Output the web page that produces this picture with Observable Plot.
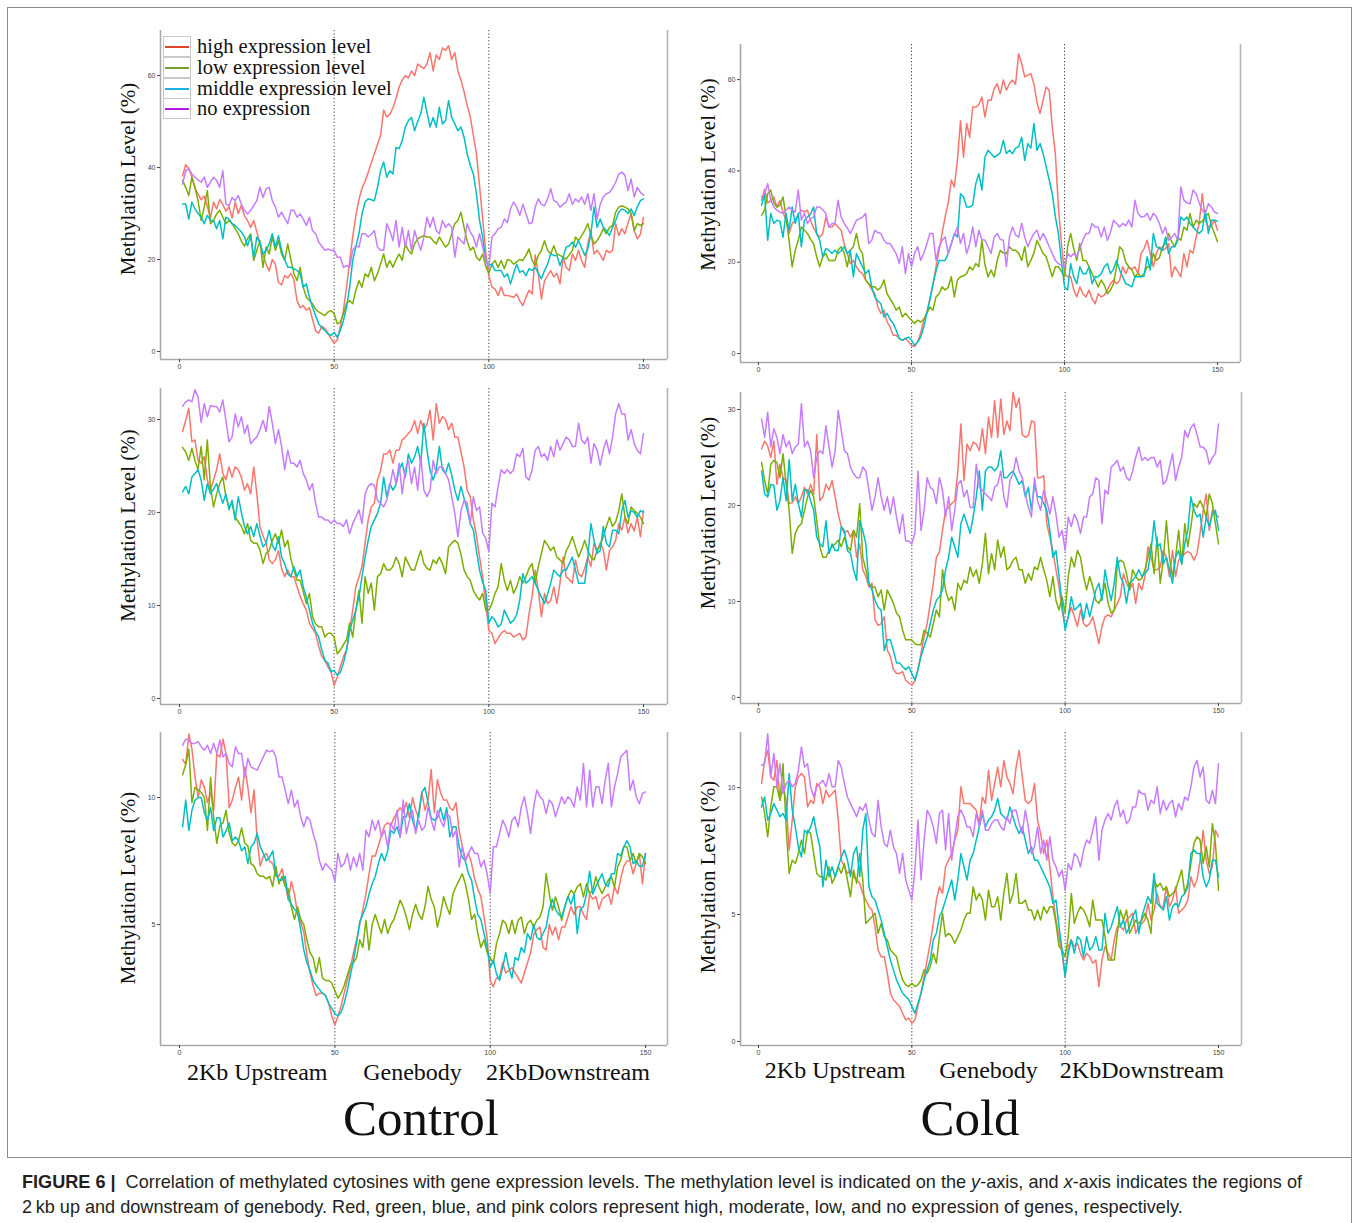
<!DOCTYPE html>
<html><head><meta charset="utf-8">
<script src="https://cdn.jsdelivr.net/npm/d3@7"></script>
<script src="https://cdn.jsdelivr.net/npm/@observablehq/plot@0.6"></script>
<style>
body{margin:0;background:#fff;}
#page{position:relative;width:1356px;height:1223px;overflow:hidden;background:#fff;}
.abs{position:absolute;}
.serif{font-family:"Liberation Serif","DejaVu Serif",serif;color:#111;}
.legrow{position:absolute;left:0;height:21px;display:flex;align-items:center;}
.legkey{width:26px;height:19px;border:1px solid #c9c9c9;background:#fff;position:relative;box-sizing:content-box;}
.legline{position:absolute;left:1px;right:1px;top:9px;height:2px;}
.legtext{margin-left:6px;font-size:20.5px;white-space:nowrap;line-height:21px;}
.cap{font-family:"Liberation Sans",Arial,sans-serif;font-size:18.1px;color:#231f20;white-space:nowrap;}
</style></head>
<body><div id="page"></div>
<script>
// ---------- data ----------
const bins = d3.range(1, 151);            // 150 bins: 2 kb upstream (1-50), gene body (51-100), 2 kb downstream (101-150)
const seriesNames = ["high expression level", "low expression level", "middle expression level", "no expression"];
const lineColors = ["#F8766D", "#7CAE00", "#00BFC4", "#C77CFF"];
const legendColors = ["#e2432c", "#77a02b", "#1ab2e2", "#b516ec"];
const xTicks = [0, 50, 100, 150];
const boundaries = [50, 100];
const regions = [
  {label: "2Kb Upstream", from: 0, to: 50},
  {label: "Genebody", from: 50, to: 100},
  {label: "2KbDownstream", from: 100, to: 150}
];
const yTitle = "Methylation Level (%)";
const groupTitles = ["Control", "Cold"];

// Control (top)
const ctlTopHigh = [38.2,40.6,39.8,38.0,35.5,34.2,33.0,33.8,31.5,29.0,32.5,31.0,33.0,32.0,30.5,31.5,29.0,32.5,30.0,31.8,29.5,28.5,27.0,28.5,26.0,23.5,21.0,19.0,17.5,20.0,19.0,15.0,14.5,16.5,16.0,17.0,15.5,11.0,9.5,10.0,9.0,9.5,7.0,4.5,4.0,5.5,5.0,4.0,2.8,1.8,2.5,5.5,9.0,14.0,19.5,25.0,29.5,33.0,35.5,37.0,39.0,41.0,43.0,45.0,47.0,52.5,51.0,51.5,53.0,55.0,57.5,59.0,60.0,59.5,61.0,60.0,62.5,62.0,61.5,62.5,65.0,61.0,64.5,63.5,66.0,65.5,66.5,63.5,65.0,61.0,59.0,56.5,53.5,51.0,47.0,43.0,36.0,29.0,21.5,16.5,14.0,13.6,12.2,14.0,12.2,12.2,12.0,11.8,12.5,11.0,10.0,11.8,13.3,12.5,21.0,16.9,11.4,15.4,16.5,17.6,16.2,17.0,14.7,20.5,18.3,17.6,21.2,19.8,22.0,19.8,18.3,23.4,26.3,21.2,22.0,21.0,19.8,22.0,21.5,22.0,27.8,25.2,26.7,25.6,28.0,30.0,26.3,24.5,25.5,29.2];
const ctlTopLow = [37.2,35.7,33.9,37.9,35.7,32.8,28.5,31.4,35.0,27.8,28.5,29.9,30.7,29.2,27.8,28.5,27.8,26.7,25.6,24.0,22.9,24.5,25.6,19.8,22.0,24.1,18.3,22.7,21.2,24.9,22.0,24.1,21.2,19.8,23.4,20.0,16.9,15.4,18.3,14.0,11.8,11.1,10.4,9.2,8.6,8.2,7.8,8.6,8.9,8.2,6.0,6.4,8.2,10.4,11.1,10.4,13.3,15.4,14.0,16.9,16.2,18.3,15.4,16.9,19.0,21.2,18.3,19.8,18.3,20.0,21.2,19.8,23.4,22.0,21.2,23.4,24.5,24.9,25.2,24.9,24.9,24.1,23.4,24.9,23.8,22.7,23.4,25.6,27.8,28.5,30.3,27.0,24.0,22.0,22.7,20.5,19.8,21.2,18.5,17.0,19.0,19.8,18.3,19.8,18.0,20.0,19.8,19.0,19.5,20.0,19.8,20.9,22.3,19.8,18.7,20.9,22.0,24.1,22.0,21.2,23.0,21.2,20.9,20.5,20.1,21.0,22.0,24.9,24.1,25.2,26.3,27.8,25.2,23.4,24.1,25.2,26.7,25.6,27.0,27.4,30.3,31.4,31.7,31.4,31.0,30.0,26.3,27.8,27.4,27.8];
const ctlTopMid = [32.1,32.1,28.8,32.5,31.0,30.0,29.2,27.8,29.6,28.5,28.5,26.7,28.5,24.5,29.2,28.8,27.8,27.4,26.7,26.0,24.9,23.0,25.2,20.5,24.9,23.8,21.2,22.0,23.4,25.6,22.7,25.2,22.0,20.0,18.3,18.3,18.0,17.6,16.9,14.0,14.7,11.8,9.6,7.8,6.0,5.2,4.6,3.8,3.5,4.2,3.1,4.6,6.7,9.6,14.0,19.8,22.7,25.6,29.9,32.5,33.2,33.0,32.8,35.7,39.3,41.2,37.9,39.3,38.6,44.4,44.1,45.9,48.8,50.2,50.9,48.0,50.0,51.7,55.3,52.0,48.8,50.9,48.8,53.1,49.5,50.2,54.6,50.9,49.5,48.0,48.8,46.6,43.0,40.5,38.6,34.3,28.5,24.9,19.8,18.7,19.0,17.6,17.6,17.6,16.2,16.9,14.7,16.9,19.0,17.2,17.6,16.5,18.0,17.6,18.3,17.0,15.8,17.6,19.0,21.2,20.9,20.9,18.7,20.5,22.7,23.0,23.8,22.7,24.1,22.5,20.9,22.3,25.6,31.4,27.0,28.8,27.0,26.3,25.2,27.0,28.5,30.3,31.0,30.7,30.0,31.0,29.6,31.4,32.8,33.2];
const ctlTopNone = [36.4,39.3,39.7,38.6,37.9,37.3,36.8,37.9,35.7,36.8,37.9,37.2,35.7,39.3,32.1,31.7,33.5,32.8,33.9,32.0,30.7,29.9,30.7,31.7,32.8,35.7,33.5,35.4,35.7,32.8,31.4,29.2,30.3,29.0,27.8,30.7,30.7,29.2,29.9,28.8,27.4,29.2,26.3,25.6,23.8,22.9,22.0,22.3,22.0,22.0,20.5,20.5,18.3,18.7,18.3,22.0,23.0,22.7,25.6,25.6,24.9,25.5,26.3,22.7,22.0,22.0,27.8,26.3,24.1,28.5,22.7,27.0,22.7,26.3,22.0,26.3,24.0,22.0,24.9,29.2,27.0,29.2,26.3,25.6,28.5,27.0,27.8,27.0,20.5,24.9,24.1,23.4,27.8,26.0,24.9,22.7,25.6,22.7,19.8,18.3,24.9,25.6,26.7,27.0,28.8,28.0,31.0,32.5,31.4,29.6,32.0,30.0,27.8,28.0,31.4,33.2,32.0,31.7,33.2,35.4,32.8,32.5,31.4,32.0,32.5,34.3,32.0,33.2,32.5,33.6,32.0,34.3,30.7,34.3,28.8,32.0,33.6,34.3,34.6,35.5,36.8,38.6,39.0,38.3,35.0,37.5,33.6,35.7,34.6,34.0];

// Cold (top)
const coldTopHigh = [33.6,36.0,33.0,33.5,34.3,32.1,33.5,31.0,29.2,26.3,28.5,29.2,30.5,31.4,31.0,31.4,29.2,27.5,26.3,25.5,26.3,29.9,27.7,27.7,28.5,27.7,27.0,24.0,21.9,19.7,20.4,19.0,18.0,17.5,16.1,15.3,14.0,13.1,10.2,8.8,9.5,7.0,5.8,4.0,4.0,3.3,2.9,3.3,2.6,1.8,1.5,2.6,4.5,7.3,9.0,12.0,15.0,19.0,22.6,26.3,30.0,33.0,38.0,36.5,42.3,51.0,43.0,50.4,47.4,54.0,54.0,54.5,56.2,51.8,55.5,55.5,58.0,59.1,56.9,59.9,57.7,59.1,59.9,59.0,65.7,63.5,60.6,61.0,61.3,59.1,55.0,52.6,55.5,58.4,57.7,49.6,43.8,32.1,24.0,17.5,16.8,16.8,14.0,12.4,14.6,13.1,12.4,13.9,12.0,10.9,13.1,12.4,12.8,13.9,15.3,16.1,15.3,16.0,19.0,17.5,19.0,18.5,19.0,17.5,21.9,23.0,24.8,21.9,19.0,21.9,23.4,22.6,23.0,24.1,16.8,19.0,18.0,16.8,21.9,19.0,22.6,22.0,25.5,28.5,35.0,29.2,27.7,28.0,29.2,27.0];
const coldTopLow = [30.3,31.4,35.0,35.8,33.0,32.1,32.5,34.3,30.0,24.8,19.0,22.6,24.8,27.7,27.0,26.3,25.0,24.1,21.2,19.0,21.2,21.9,20.4,20.4,20.4,22.6,23.4,22.0,19.0,22.6,23.4,26.3,23.0,21.9,16.1,15.3,14.6,14.6,13.9,14.5,16.1,13.1,12.0,10.9,9.5,10.2,8.0,8.8,8.0,7.3,6.6,7.3,6.9,7.5,8.8,10.2,9.5,12.4,13.1,14.6,13.9,14.5,16.8,12.4,16.1,16.8,17.0,17.5,19.0,18.3,19.7,19.0,24.8,19.5,16.8,18.3,16.8,20.4,22.6,22.0,21.9,23.4,22.6,22.6,22.0,20.4,23.4,19.0,20.4,22.0,24.8,23.4,21.9,21.2,19.0,16.8,19.0,19.0,18.0,16.8,23.4,26.3,23.0,20.4,24.1,20.4,20.4,19.0,17.5,16.1,14.6,16.1,15.0,13.1,13.9,15.3,19.0,23.4,22.6,20.0,19.0,18.3,16.8,17.5,16.8,17.5,19.0,19.0,21.9,20.4,21.0,23.4,24.1,26.3,24.5,23.4,25.5,24.8,27.7,27.0,30.7,27.7,29.2,28.5,29.0,29.9,30.7,28.0,26.3,24.5];
const coldTopMid = [32.5,35.0,24.8,30.7,28.5,29.2,29.0,25.5,30.7,27.0,32.1,28.5,30.7,23.4,29.2,29.9,30.5,32.1,26.3,24.8,21.2,23.0,22.6,21.9,22.6,21.9,22.5,23.4,21.9,22.6,16.8,21.9,20.4,19.0,17.5,18.3,14.6,12.4,11.5,10.9,8.0,8.8,7.5,6.6,5.1,3.3,2.9,3.3,3.6,2.9,1.8,2.5,3.6,5.8,8.8,11.7,15.3,18.0,20.4,20.4,20.4,21.9,24.0,26.3,25.5,35.0,34.3,32.1,32.1,32.5,37.2,39.4,35.8,43.0,44.5,43.8,43.0,43.4,44.0,46.7,43.8,44.5,43.8,45.0,45.3,47.4,42.3,46.0,45.0,50.4,44.5,46.0,43.8,40.9,38.0,35.0,30.0,26.3,20.0,14.6,13.9,19.7,16.8,15.3,19.0,17.5,17.5,19.0,15.3,16.8,16.8,17.5,19.0,19.7,17.5,18.5,20.4,18.3,16.8,15.3,15.0,14.6,16.8,16.8,16.8,17.0,21.2,18.3,26.3,23.4,23.0,22.6,25.5,21.9,23.4,23.4,24.8,29.9,29.2,29.9,28.5,27.7,27.0,26.3,27.0,31.4,26.3,29.2,29.2,29.0];
const coldTopNone = [34.3,35.0,37.2,33.6,32.1,31.4,31.0,30.7,31.4,32.1,31.4,31.0,35.8,29.2,30.7,28.5,29.5,29.9,32.1,32.1,31.5,30.7,27.7,28.5,28.5,33.6,29.9,28.5,27.5,26.3,27.7,29.2,29.5,29.9,30.7,24.1,24.8,27.0,26.5,26.3,24.8,24.1,24.1,23.0,21.9,19.7,23.4,17.5,21.9,19.0,21.9,23.4,20.4,21.9,24.0,26.3,26.3,20.4,23.4,24.8,25.5,21.9,24.1,26.0,27.7,24.1,26.3,21.9,24.0,27.7,23.4,27.0,25.0,24.8,23.4,21.9,25.5,26.3,25.0,24.8,19.0,25.5,27.7,26.0,25.5,28.5,25.5,23.4,25.0,26.3,27.0,24.8,26.3,25.0,23.4,21.9,20.4,19.7,19.3,19.0,21.9,21.2,21.9,21.2,23.0,24.8,26.3,26.3,28.5,27.7,27.7,25.5,27.7,24.8,26.5,29.2,28.5,27.7,28.5,28.0,29.2,27.7,33.6,30.7,29.9,30.0,30.7,29.2,30.7,30.0,28.5,26.3,27.7,24.8,25.5,26.3,24.8,36.5,33.6,33.0,32.8,35.8,35.0,33.0,31.4,30.7,32.8,32.1,31.0,30.7];

// Control (middle)
const ctlMidHigh = [28.7,29.9,31.2,27.6,27.8,25.6,25.3,26.0,23.5,22.4,23.5,24.6,26.3,24.2,23.5,24.9,23.8,24.9,24.6,23.8,22.4,23.1,22.0,24.9,22.0,18.5,17.5,16.7,14.9,14.5,14.9,15.9,14.0,13.1,13.8,13.1,13.1,12.0,11.0,10.2,9.5,8.1,7.5,7.0,5.6,4.5,4.1,3.4,2.8,1.4,2.3,3.4,4.5,5.2,7.3,9.5,12.0,13.0,14.2,16.7,19.2,20.6,21.0,23.5,24.5,26.3,26.3,26.7,25.3,26.7,26.7,27.8,28.1,28.5,28.9,29.9,28.5,29.9,28.9,29.5,31.0,27.8,31.7,29.6,30.3,30.0,28.9,29.6,28.1,28.1,26.5,24.9,22.4,21.7,19.2,17.5,15.2,13.1,10.2,7.3,7.0,5.9,6.5,7.0,7.3,7.0,7.0,6.6,6.8,7.0,6.3,6.6,9.1,11.0,13.8,11.6,8.8,11.3,10.2,10.5,12.0,10.2,12.4,15.2,13.1,12.8,12.4,14.9,13.4,13.1,14.0,15.2,14.2,16.7,15.9,16.7,16.0,13.8,15.9,16.3,17.0,18.8,18.1,19.5,17.8,18.8,18.0,19.5,17.4,20.2];
const ctlMidLow = [27.0,26.5,25.6,26.9,25.6,24.6,27.1,23.5,27.8,22.8,20.6,22.0,23.1,23.8,21.7,20.6,21.0,19.5,19.0,18.5,17.7,18.8,17.0,16.7,16.7,16.0,14.5,15.6,15.9,17.0,17.7,16.7,18.1,16.3,17.0,15.0,13.8,12.7,12.7,11.5,10.2,11.3,8.8,8.0,7.7,7.7,6.6,7.0,7.0,6.6,4.8,5.2,5.8,6.3,8.1,6.6,9.5,11.6,8.1,13.1,11.3,12.4,9.5,13.1,13.4,14.5,13.8,13.8,14.2,15.2,14.5,13.1,15.2,14.5,13.8,13.8,14.9,15.9,14.5,14.0,13.8,14.9,14.5,15.2,14.5,13.4,16.3,16.7,17.0,16.7,15.5,13.8,13.1,12.7,11.6,11.0,10.6,11.3,9.5,9.5,10.2,11.3,12.0,14.5,12.7,11.6,12.7,11.3,12.0,13.1,12.4,13.1,14.0,14.5,12.4,14.2,15.6,17.0,16.5,15.9,16.3,15.2,14.9,14.5,15.9,16.5,17.4,16.3,15.2,16.0,17.0,15.9,15.2,14.9,15.9,16.5,17.4,18.5,19.5,18.5,19.0,20.2,22.0,19.5,18.8,20.6,20.2,19.9,19.5,18.8];
const ctlMidMid = [22.2,22.8,22.0,23.8,24.2,24.6,23.5,21.3,23.1,22.0,22.5,23.1,22.0,21.0,22.0,20.3,21.3,19.2,21.7,20.0,18.5,17.7,18.5,17.4,18.8,17.5,16.3,16.7,18.1,16.5,15.9,17.4,15.2,14.5,13.4,13.1,14.2,13.1,13.8,12.0,10.9,9.5,8.1,7.2,6.6,5.2,4.1,3.8,2.9,3.0,2.5,2.8,3.8,5.2,7.3,8.4,9.5,10.9,13.1,15.2,17.0,18.5,19.2,19.9,21.0,23.8,21.7,23.1,22.4,23.0,24.6,25.3,23.8,26.3,25.3,26.0,27.1,25.3,29.6,26.7,24.5,23.5,24.6,27.1,24.6,24.2,25.3,24.0,22.4,21.3,22.8,21.5,20.3,18.8,18.1,15.9,13.8,12.5,11.6,8.1,8.8,8.4,7.7,8.0,9.5,8.8,8.1,8.4,9.0,10.6,13.4,12.4,12.7,13.1,12.4,11.6,10.9,10.2,11.2,12.4,13.8,13.4,13.1,13.8,13.8,14.5,15.2,13.8,12.4,12.4,12.4,15.2,18.8,17.0,15.6,15.9,18.5,16.7,16.3,18.1,18.1,17.7,20.2,21.3,19.5,20.2,20.0,19.5,20.2,20.0];
const ctlMidNone = [31.4,31.9,32.1,31.9,33.2,32.4,29.7,31.7,30.3,31.5,31.4,31.4,30.8,32.1,29.9,27.6,28.1,30.6,29.2,30.3,28.5,29.4,27.4,27.8,28.1,28.9,29.9,28.7,31.4,29.6,27.4,28.9,27.1,24.6,26.7,25.3,25.3,24.9,25.6,24.2,23.5,22.4,23.1,21.0,19.5,19.5,19.2,19.2,18.8,19.2,18.8,18.8,18.5,19.2,17.7,18.8,19.5,20.3,18.8,22.0,22.8,23.1,22.9,21.3,21.0,20.6,21.3,22.8,24.6,23.1,25.3,22.0,24.6,25.6,23.1,24.9,22.4,26.0,22.4,21.7,22.4,25.6,24.2,24.9,24.9,24.2,23.5,21.7,19.9,17.4,20.2,21.3,21.0,18.8,21.7,20.2,20.6,17.8,17.2,15.8,21.0,20.6,22.8,24.6,24.2,24.6,24.2,24.6,26.3,26.0,26.9,23.8,23.5,24.6,26.7,27.1,26.0,26.3,25.6,27.1,26.0,27.8,26.7,27.4,28.1,27.8,27.1,27.1,29.6,27.8,27.4,28.1,25.3,27.4,26.7,25.1,26.7,27.8,26.3,28.1,30.6,31.7,30.6,30.6,27.8,28.9,27.4,26.7,26.3,28.5];

// Cold (middle)
const coldMidHigh = [25.9,26.7,26.2,25.0,26.7,22.2,24.3,22.9,22.6,20.2,20.3,20.9,20.2,20.9,21.9,21.2,22.2,21.2,27.4,20.5,20.9,22.2,21.6,22.6,20.9,19.1,17.8,17.1,17.4,16.7,17.4,14.6,16.0,13.3,12.6,11.5,11.9,8.1,7.5,7.7,8.4,4.9,4.3,2.9,2.5,2.5,2.7,1.8,1.5,1.3,1.7,2.9,4.6,6.3,7.7,9.8,11.9,14.6,15.2,17.4,19.5,19.8,20.2,20.5,23.6,28.5,22.6,26.4,25.7,26.6,26.4,25.7,28.0,25.4,29.2,27.1,30.9,27.1,31.1,27.4,28.8,27.8,31.8,30.2,31.2,27.4,27.1,27.3,28.8,28.7,22.9,22.9,23.1,18.1,16.7,15.3,13.3,11.5,9.1,7.4,8.4,9.4,8.4,7.4,9.1,7.7,7.4,7.7,8.4,7.0,5.6,7.4,8.4,8.6,8.4,9.1,9.8,10.5,12.9,11.9,11.2,11.9,9.8,11.9,11.2,12.6,15.7,14.6,13.3,13.3,13.6,15.3,14.6,12.6,15.3,12.6,14.3,14.6,15.0,15.2,15.0,14.3,15.0,17.1,19.5,21.2,17.4,19.5,19.1,18.8];
const coldMidLow = [24.5,22.6,21.2,24.3,24.7,24.5,22.9,25.4,22.2,19.5,15.0,17.1,17.8,18.1,19.5,20.9,21.6,20.9,18.4,15.7,14.6,14.6,15.3,15.7,16.0,16.4,15.7,16.7,15.7,15.3,17.4,16.7,20.2,14.6,13.3,11.9,11.5,11.5,10.5,11.2,9.1,11.2,10.5,9.8,8.8,8.4,7.0,6.0,6.0,6.0,5.6,5.5,5.5,7.0,6.7,6.3,7.7,9.1,8.4,13.3,11.2,10.1,10.5,9.1,11.9,11.2,12.2,11.9,13.6,12.6,13.3,11.9,13.9,17.1,12.9,15.0,13.3,16.4,14.6,15.7,13.3,13.6,14.3,14.6,13.3,13.3,11.9,12.9,12.2,13.6,13.3,14.6,13.3,12.2,10.5,12.6,10.1,9.1,10.5,8.8,12.6,14.6,13.6,15.3,14.6,12.6,11.2,12.6,11.5,10.1,9.8,10.5,11.9,9.8,8.8,9.1,13.9,14.3,14.1,12.9,11.2,13.3,12.6,12.2,12.4,13.3,14.6,16.0,12.9,16.7,11.9,14.3,18.4,14.6,12.6,14.6,17.4,13.9,18.1,15.7,17.8,20.2,19.8,20.5,19.8,18.8,21.2,20.2,18.1,16.0];
const coldMidMid = [23.6,21.2,20.9,22.2,22.1,19.5,20.5,22.9,20.5,24.8,20.5,22.2,20.2,18.8,21.6,21.6,20.5,19.5,16.7,16.0,15.7,18.4,15.0,16.0,15.3,15.3,17.8,17.4,15.3,15.0,13.3,12.2,18.4,17.4,16.0,11.9,11.2,10.1,9.4,9.1,4.9,6.0,6.0,4.9,3.6,3.6,3.2,2.9,3.2,2.5,1.8,2.9,4.3,5.3,6.3,7.7,9.1,10.1,10.5,11.2,13.3,14.6,16.7,15.7,14.6,18.1,19.1,18.1,17.1,18.8,20.9,23.6,19.5,23.6,24.0,24.0,23.6,24.0,25.7,22.9,22.9,23.3,23.6,22.9,22.2,22.6,20.9,21.9,19.5,22.2,20.9,20.9,20.2,19.5,17.4,14.6,15.3,12.6,9.8,7.0,8.4,10.5,9.1,9.4,9.8,8.1,9.8,8.4,9.8,11.2,11.9,10.1,13.3,11.5,10.1,11.9,14.6,12.6,11.9,9.8,11.9,12.2,12.6,13.3,12.6,12.9,13.3,15.3,18.4,15.7,16.0,13.9,14.6,13.3,11.9,14.6,15.3,13.9,16.0,17.4,20.9,19.5,18.8,19.1,16.7,18.8,17.8,19.1,19.5,17.4];
const coldMidNone = [29.0,27.1,29.7,26.1,28.0,27.1,25.4,27.4,26.1,26.7,25.4,26.1,26.4,30.6,26.1,26.7,25.7,22.9,25.0,25.7,25.4,28.3,26.1,24.0,25.7,29.9,27.8,25.7,25.4,24.0,23.3,22.9,22.9,24.0,23.6,21.6,19.5,20.9,22.9,20.9,19.5,20.9,19.1,20.9,18.8,17.1,19.1,16.3,16.3,16.0,17.1,23.6,17.4,19.5,22.9,21.9,21.6,20.2,22.9,21.6,18.8,20.9,17.4,19.5,22.2,22.6,20.9,21.6,19.8,19.8,24.3,21.9,21.6,21.2,20.9,20.5,21.9,22.2,23.6,20.9,19.8,22.6,23.3,25.0,23.6,22.9,21.2,19.8,18.8,22.9,20.5,19.5,21.6,20.5,19.1,20.9,19.1,16.7,17.4,15.3,18.8,17.8,19.1,18.4,17.1,18.8,18.8,20.9,21.2,22.9,22.6,18.1,21.6,21.2,24.0,24.3,24.7,23.6,24.0,22.9,22.6,23.6,25.0,26.1,24.7,25.0,24.7,25.0,25.0,24.0,24.7,22.2,22.6,24.0,25.4,22.6,24.0,25.0,27.8,27.1,28.1,28.5,27.4,26.1,26.1,25.7,24.3,25.0,25.4,28.5];

// Control (bottom)
const ctlBotHigh = [11.5,11.3,12.5,11.9,10.8,10.0,10.7,10.4,9.8,10.2,9.5,11.7,11.6,12.3,11.7,9.6,9.9,10.4,10.8,9.9,11.2,10.4,9.4,10.3,8.3,7.3,7.7,7.8,7.5,7.4,6.9,6.9,7.2,6.6,6.0,6.7,6.2,5.4,5.1,4.7,3.8,3.1,2.6,2.2,2.3,2.3,2.2,1.9,1.4,1.05,1.4,1.8,2.3,2.8,3.3,3.9,4.4,5.0,5.6,6.2,7.0,7.7,7.7,8.1,8.5,8.9,9.0,8.9,9.2,9.4,9.6,9.4,9.8,9.2,10.0,9.5,9.2,10.2,9.5,9.9,11.1,9.4,10.7,10.2,9.9,9.9,9.6,9.5,9.8,8.7,8.1,7.5,7.8,7.4,6.8,6.4,6.1,5.3,4.5,2.8,2.55,2.9,2.9,3.5,3.1,3.2,3.3,3.1,2.9,2.7,3.1,3.5,3.9,4.6,4.8,4.9,4.1,4.0,5.0,4.6,4.9,4.4,4.9,4.9,5.3,5.7,5.4,5.7,5.7,5.4,5.2,6.2,6.0,6.1,5.6,6.0,6.1,6.2,5.8,6.5,6.2,6.8,7.3,7.5,7.5,7.0,7.4,7.8,6.6,7.8];
const ctlBotLow = [10.9,11.3,11.9,9.8,10.4,10.3,10.2,10.0,8.7,10.8,9.2,8.2,8.9,9.0,9.5,8.6,8.2,8.1,8.3,8.8,8.2,8.1,7.4,7.3,7.0,6.9,6.9,6.8,6.9,6.5,7.3,6.6,6.9,6.5,6.4,5.7,5.2,5.7,5.2,5.0,4.4,3.9,3.7,3.1,3.7,2.9,2.8,2.8,2.7,2.4,2.1,2.3,2.6,3.0,3.4,3.5,3.7,4.4,4.1,5.17,4.0,5.0,5.4,5.0,4.65,5.2,4.65,5.0,5.2,5.56,5.96,5.7,5.3,4.8,5.4,5.8,5.4,5.2,5.7,6.5,6.0,5.7,4.9,5.4,6.1,5.7,5.4,6.2,6.5,6.75,7.0,6.6,6.0,5.2,5.4,4.65,4.1,4.4,3.9,3.7,3.46,4.25,4.65,5.17,5.04,4.65,5.17,4.65,5.17,5.3,4.65,5.04,5.17,4.91,5.17,5.3,5.7,7.01,6.22,5.56,6.09,5.7,5.17,5.7,6.09,6.35,6.22,6.48,6.61,6.09,6.61,6.22,6.35,6.88,6.48,6.22,6.48,6.75,6.88,6.48,7.27,7.53,8.06,8.06,7.53,7.8,7.4,7.8,7.66,7.4];
const ctlBotMid = [8.85,9.9,8.7,9.5,9.9,10.0,10.0,9.4,9.1,9.6,8.7,9.2,9.2,8.45,8.7,9.0,8.3,8.45,8.3,7.9,8.06,7.4,8.06,8.2,8.6,8.06,7.8,7.5,7.66,7.9,7.0,6.75,6.75,6.9,6.0,5.8,5.6,5.5,4.8,4.0,3.5,3.2,2.8,2.6,2.45,2.3,2.2,1.9,1.7,1.5,1.4,1.55,1.9,2.4,3.0,3.6,4.3,5.1,5.4,5.7,6.2,6.6,6.9,7.4,7.8,7.5,7.9,8.7,8.6,8.85,8.45,9.24,9.24,9.76,9.1,8.7,9.4,10.2,10.4,9.8,9.2,9.1,9.2,9.6,9.1,9.6,8.45,8.85,8.85,8.06,7.66,7.5,7.0,6.75,6.0,5.4,5.2,4.65,4.1,3.3,3.6,3.07,2.8,3.3,3.9,3.3,2.9,3.7,3.6,4.1,3.9,4.65,4.4,5.0,4.5,4.4,4.65,4.9,5.6,6.0,5.6,5.4,5.3,5.7,6.1,5.8,6.2,4.65,5.6,5.7,6.2,7.1,6.2,6.5,6.75,7.0,6.6,6.5,7.0,7.0,7.8,7.7,8.06,8.3,8.06,7.4,7.5,7.3,7.3,7.8];
const ctlBotNone = [12.06,12.3,12.26,12.13,12.13,12.2,12.0,11.86,12.06,11.73,12.13,11.73,12.26,11.6,11.73,11.34,11.21,12.0,11.73,11.73,10.81,11.54,11.21,11.14,11.08,11.34,11.6,11.86,11.8,11.86,11.6,10.81,10.81,10.29,9.76,10.29,9.63,9.9,9.24,8.85,9.24,9.11,8.58,8.19,7.53,7.14,7.4,7.27,7.14,6.7,7.8,7.27,7.4,7.8,7.14,7.66,7.27,7.8,7.14,8.71,8.45,9.11,8.71,9.11,8.45,8.71,8.06,9.0,8.71,9.5,8.45,9.9,8.58,9.11,9.5,8.58,9.11,8.71,8.85,9.63,9.11,8.71,9.5,9.11,8.85,9.37,9.24,8.45,8.71,7.27,8.06,7.53,7.8,8.06,7.8,7.8,7.27,7.53,7.0,6.22,8.06,8.06,8.58,9.11,8.85,8.45,9.11,9.24,8.85,9.63,10.03,9.37,8.58,9.63,10.29,10.03,9.9,9.37,9.9,9.76,9.24,9.63,10.03,9.76,10.03,9.9,9.63,10.42,9.9,11.34,9.63,11.08,9.63,10.42,10.42,9.76,10.68,11.34,9.63,10.42,10.94,11.6,11.73,11.86,10.29,10.68,10.03,9.76,10.16,10.22];

// Cold (bottom)
const coldBotHigh = [10.16,11.07,11.47,10.42,10.29,11.07,9.5,10.03,9.5,7.54,8.72,10.03,10.42,10.55,10.42,9.24,9.5,9.37,10.16,10.03,9.37,9.9,9.63,9.76,9.9,8.72,7.14,6.88,6.62,6.75,6.49,6.36,6.23,5.83,5.57,5.31,5.18,4.52,3.6,3.34,3.34,2.69,1.9,1.64,1.51,1.38,1.11,0.85,0.92,0.72,0.85,1.38,1.9,2.56,3.21,3.87,4.65,5.57,6.09,5.83,6.88,7.14,7.4,7.93,8.32,10.03,9.37,9.37,9.37,9.24,9.11,8.58,9.63,9.37,10.68,9.5,10.16,10.81,10.03,11.07,10.42,10.16,9.76,10.81,11.47,10.42,9.5,9.37,9.5,10.16,8.72,8.19,7.4,7.93,6.88,5.7,4.78,4.13,3.47,2.56,3.74,4.0,3.74,3.87,3.47,3.21,3.47,3.34,3.08,3.21,2.16,3.21,3.74,3.47,3.21,4.0,4.52,4.52,4.39,4.78,4.91,5.05,4.26,4.52,4.65,4.78,5.44,4.78,5.18,5.83,5.31,5.31,6.09,5.31,5.57,6.09,5.05,5.18,5.31,5.57,6.49,6.09,6.36,7.14,8.32,7.14,6.62,6.88,8.32,8.06];
const coldBotLow = [9.63,8.98,8.06,9.24,10.03,10.03,9.5,10.94,8.45,6.62,7.14,7.01,7.4,7.93,7.4,8.32,8.19,7.4,6.62,6.49,6.49,6.36,6.88,6.23,6.49,6.88,6.62,7.01,6.36,5.7,6.75,6.23,7.4,6.36,4.65,4.78,4.91,5.05,4.26,4.65,4.13,4.0,3.6,3.47,3.34,2.82,2.42,2.23,2.16,2.29,2.16,2.23,2.42,2.82,2.69,2.95,3.47,3.08,4.13,5.05,4.13,4.26,4.13,3.87,4.13,4.39,4.78,5.05,5.05,6.09,5.57,5.83,5.57,4.78,5.96,5.31,5.31,5.7,4.78,5.83,6.62,5.44,5.83,6.62,5.44,5.44,5.57,5.18,5.18,4.78,5.18,4.78,5.31,5.05,5.31,5.31,4.65,3.74,3.6,3.34,4.13,5.83,4.65,5.05,5.31,5.18,4.91,4.52,5.57,4.78,4.78,4.78,4.13,3.21,3.21,3.21,4.26,5.18,4.78,5.18,4.26,4.52,4.78,4.65,4.78,5.05,4.78,4.26,6.36,6.09,6.23,5.96,6.09,5.7,5.83,5.96,6.36,6.75,5.83,6.23,7.01,7.8,8.06,7.93,7.01,7.67,6.88,8.58,7.8,5.96];
const coldBotMid = [9.24,9.63,8.72,8.98,9.37,9.11,8.85,8.98,8.72,10.55,9.11,8.45,7.67,7.27,8.32,8.19,8.45,8.85,8.19,7.67,6.09,7.14,6.49,6.88,6.49,6.88,7.27,7.54,7.14,6.49,7.4,7.67,6.49,8.32,8.98,6.09,5.7,5.57,5.18,4.78,4.26,3.74,3.21,2.82,2.42,2.16,1.9,1.77,1.64,1.38,1.11,1.51,1.9,2.42,2.82,3.21,4.0,4.26,4.91,5.18,5.57,5.96,6.36,5.57,6.36,7.4,6.88,6.36,7.14,7.4,7.93,8.45,8.98,8.45,8.72,8.85,9.11,9.57,8.98,8.85,8.72,9.24,8.85,8.45,8.19,8.45,7.93,7.4,7.67,7.14,7.14,6.88,6.62,6.36,6.09,5.44,5.57,4.52,3.6,2.56,3.47,4.0,3.47,4.13,4.0,3.34,4.13,3.6,3.74,4.13,3.6,3.6,5.05,4.26,4.52,4.91,5.31,4.52,4.78,4.26,4.52,4.91,5.18,4.26,4.91,5.31,5.7,5.44,6.62,5.44,5.31,5.18,5.7,4.78,5.31,5.44,5.31,5.7,5.83,6.09,7.4,7.54,7.4,7.4,6.49,6.09,6.36,7.14,7.14,6.49];
const coldBotNone = [10.88,10.94,12.12,10.42,11.34,10.03,10.94,9.76,10.16,10.29,10.03,10.16,10.68,11.6,10.81,10.94,10.03,9.63,10.03,10.16,10.29,10.03,10.55,10.03,10.03,11.07,10.81,10.16,9.63,9.37,9.11,8.85,9.24,9.11,9.37,8.72,8.19,8.06,9.5,8.45,7.8,7.67,8.32,7.67,7.4,6.62,7.4,6.36,5.96,5.57,6.75,8.72,6.36,7.93,9.11,8.85,8.45,7.8,8.98,9.11,7.54,8.98,7.14,8.06,8.85,9.11,8.85,8.45,8.45,8.06,8.98,8.45,9.11,8.32,8.32,8.58,8.72,8.72,8.45,8.32,8.85,8.58,9.11,9.11,8.58,8.19,9.11,8.45,7.4,7.67,8.45,7.4,7.93,7.14,8.06,7.14,6.88,6.49,6.75,5.96,7.01,6.75,7.4,7.27,6.88,7.54,7.93,7.8,8.32,8.85,7.14,8.32,8.72,8.98,8.72,9.24,9.5,8.85,9.11,8.58,8.72,9.24,9.24,9.89,9.76,9.76,9.11,9.5,9.37,10.03,8.98,9.5,9.11,9.37,9.5,8.85,9.37,9.11,9.63,9.5,10.03,10.81,11.07,10.42,10.81,9.5,9.37,9.89,9.37,10.94];

// ---------- panel settings (scale domains / placement of each facet) ----------
const panels = [
  {series: [ctlTopHigh, ctlTopLow, ctlTopMid, ctlTopNone], frame: {L: 160, R: 667, T: 30, B: 359},
   xDomain: [-6.14, 157.76], yDomain: [-1.74, 69.8], yTicks: [0, 20, 40, 60], titleDy: -16},
  {series: [coldTopHigh, coldTopLow, coldTopMid, coldTopNone], frame: {L: 740, R: 1240, T: 44, B: 362},
   xDomain: [-5.88, 157.5], yDomain: [-1.97, 67.7], yTicks: [0, 20, 40, 60], titleDy: -29},
  {series: [ctlMidHigh, ctlMidLow, ctlMidMid, ctlMidNone], frame: {L: 160, R: 667, T: 388, B: 704},
   xDomain: [-6.14, 157.76], yDomain: [-0.65, 33.33], yTicks: [0, 10, 20, 30], titleDy: -21},
  {series: [coldMidHigh, coldMidLow, coldMidMid, coldMidNone], frame: {L: 740, R: 1241, T: 392, B: 703},
   xDomain: [-5.87, 157.5], yDomain: [-0.63, 31.77], yTicks: [0, 10, 20, 30], titleDy: -35},
  {series: [ctlBotHigh, ctlBotLow, ctlBotMid, ctlBotNone], frame: {L: 160, R: 667, T: 732, B: 1045},
   xDomain: [-6.12, 157.06], yDomain: [0.24, 12.56], yTicks: [5, 10], titleDy: -1, bottom: true, labelDy: 27},
  {series: [coldBotHigh, coldBotLow, coldBotMid, coldBotNone], frame: {L: 740, R: 1241, T: 732, B: 1045},
   xDomain: [-5.87, 157.5], yDomain: [-0.16, 12.17], yTicks: [0, 5, 10], titleDy: -12, bottom: true, labelDy: 25}
];

const page = document.getElementById("page");
const SERIF = "Liberation Serif, DejaVu Serif, serif";

function makePanel(p) {
  const rows = [];
  p.series.forEach((vals, k) => vals.forEach((v, i) => rows.push({bin: bins[i], level: v, group: seriesNames[k]})));
  const mL = 70, mR = 12, mT = 8, mB = p.bottom ? 50 : 22;
  const fw = p.frame.R - p.frame.L, fh = p.frame.B - p.frame.T;
  const marks = [
    Plot.ruleX(boundaries, {stroke: "#3a3a3a", strokeWidth: 1, strokeDasharray: "1.2,2.2"}),
    Plot.lineY(rows, {x: "bin", y: "level", z: "group", stroke: "group", strokeWidth: 1.5}),
    Plot.ruleX([p.xDomain[0]], {stroke: "#a9a9a9", strokeWidth: 1.6}),
    Plot.ruleX([p.xDomain[1]], {stroke: "#b5b5b5", strokeWidth: 1.6}),
    Plot.ruleY([p.yDomain[0]], {stroke: "#a9a9a9", strokeWidth: 1.6}),
    Plot.axisX({ticks: xTicks, tickSize: 3, tickPadding: 1.5, fontSize: 7, label: null, tickFormat: d3.format("d")}),
    Plot.axisY({ticks: p.yTicks, tickSize: 3, tickPadding: 2, fontSize: 7, label: null, tickFormat: d3.format("d")}),
    Plot.text([yTitle], {text: d => d, frameAnchor: "left", textAnchor: "middle", lineAnchor: "middle",
      rotate: -90, dx: -32, dy: p.titleDy, fontSize: 21, fontFamily: SERIF, fill: "#111"})
  ];
  if (p.bottom) {
    marks.push(Plot.text(regions, {x: d => (d.from + d.to) / 2, text: "label", frameAnchor: "bottom",
      lineAnchor: "middle", dy: p.labelDy, fontSize: 24, fontFamily: SERIF, fill: "#111"}));
  }
  const svg = Plot.plot({
    width: mL + fw + mR, height: mT + fh + mB,
    marginLeft: mL, marginRight: mR, marginTop: mT, marginBottom: mB,
    x: {domain: p.xDomain},
    y: {domain: p.yDomain},
    color: {domain: seriesNames, range: lineColors},
    style: {fontFamily: "Liberation Sans, Arial, sans-serif", fontSize: "7px", color: "#444", background: "transparent", overflow: "visible"},
    marks
  });
  svg.style.position = "absolute";
  svg.style.left = (p.frame.L - mL) + "px";
  svg.style.top = (p.frame.T - mT) + "px";
  page.appendChild(svg);
}
panels.forEach(makePanel);

// legend (top-left panel)
const leg = document.createElement("div");
leg.className = "abs serif";
leg.style.left = "163px"; leg.style.top = "36px";
seriesNames.forEach((name, k) => {
  const row = document.createElement("div");
  row.className = "legrow";
  row.style.top = (k * 20.8) + "px";
  const key = document.createElement("div"); key.className = "legkey";
  const ln = document.createElement("div"); ln.className = "legline"; ln.style.background = legendColors[k];
  key.appendChild(ln);
  const tx = document.createElement("div"); tx.className = "legtext"; tx.textContent = name;
  row.appendChild(key); row.appendChild(tx);
  leg.appendChild(row);
});
page.appendChild(leg);

// group titles
[[groupTitles[0], 421], [groupTitles[1], 970]].forEach(([t, cx]) => {
  const d = document.createElement("div");
  d.className = "abs serif";
  d.style.left = (cx - 150) + "px"; d.style.width = "300px"; d.style.textAlign = "center";
  d.style.top = "1088px"; d.style.fontSize = "51px"; d.style.lineHeight = "60px";
  d.textContent = t;
  page.appendChild(d);
});

// frame border of the figure
const border = document.createElement("div");
border.className = "abs";
Object.assign(border.style, {left: "7px", top: "7px", width: "1345px", height: "1151px", border: "1px solid #8c8c8c", boxSizing: "border-box"});
page.appendChild(border);
const rline = document.createElement("div");
rline.className = "abs";
Object.assign(rline.style, {left: "1351px", top: "1158px", width: "1px", height: "65px", background: "#8c8c8c"});
page.appendChild(rline);

// caption
const cap = document.createElement("div");
cap.className = "abs cap";
cap.style.left = "22px"; cap.style.top = "1170px"; cap.style.lineHeight = "25px";
cap.innerHTML = '<b>FIGURE 6</b> <b>|</b>&nbsp; Correlation of methylated cytosines with gene expression levels. The methylation level is indicated on the <i>y</i>-axis, and <i>x</i>-axis indicates the regions of<br>2\u2009kb up and downstream of genebody. Red, green, blue, and pink colors represent high, moderate, low, and no expression of genes, respectively.';
page.appendChild(cap);
</script></body></html>
